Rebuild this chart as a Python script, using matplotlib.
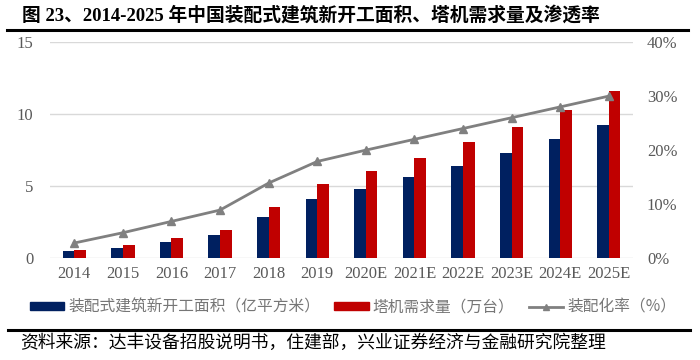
import numpy as np
import matplotlib.pyplot as plt
from matplotlib.lines import Line2D

plt.rcParams['font.family'] = ['Liberation Serif', 'Noto Sans CJK SC']

years = ['2014', '2015', '2016', '2017', '2018', '2019', '2020E', '2021E',
         '2022E', '2023E', '2024E', '2025E']
area = [0.46, 0.69, 1.11, 1.6, 2.89, 4.14, 4.83, 5.6, 6.42, 7.3, 8.24, 9.26]
cranes = [0.58, 0.88, 1.39, 1.97, 3.58, 5.18, 6.07, 6.98, 8.03, 9.12, 10.28, 11.6]
rate = [2.8, 4.7, 6.8, 8.9, 13.9, 17.9, 20.0, 22.0, 24.0, 26.0, 28.0, 30.0]

navy = '#002060'
red = '#C00000'
grey = '#808080'
txt = '#595959'

fig = plt.figure(figsize=(7, 3.6), dpi=100)
ax = fig.add_axes([0.0714, 0.283, 0.833, 0.6])
x = np.arange(len(years))
w = 0.24
ax.bar(x - w / 2, area, w, color=navy, zorder=3)
ax.bar(x + w / 2, cranes, w, color=red, zorder=3)
ax.set_ylim(0, 15)
ax.set_yticks([0, 5, 10, 15])
ax.set_xlim(-0.5, len(years) - 0.5)
ax.set_xticks(x)
ax.set_xticklabels(years)
ax.grid(axis='y', color='#d9d9d9', lw=1, zorder=0)
for s in ax.spines.values():
    s.set_visible(False)
ax.tick_params(length=0, labelsize=12, colors=txt, pad=6)
ax.tick_params(axis='y', pad=12)

ax2 = ax.twinx()
ax2.plot(x, rate, color=grey, lw=2, marker='^', ms=6, zorder=4)
ax2.set_ylim(0, 40)
ax2.set_yticks([0, 10, 20, 30, 40])
ax2.set_yticklabels(['0%', '10%', '20%', '30%', '40%'])
for s in ax2.spines.values():
    s.set_visible(False)
ax2.tick_params(length=0, labelsize=12, colors=txt, pad=10)

cjk = ['Noto Sans CJK SC', 'DejaVu Sans']
handles = [plt.Rectangle((0, 0), 1, 1, color=navy),
           plt.Rectangle((0, 0), 1, 1, color=red),
           Line2D([], [], color=grey, lw=2, marker='^', ms=5)]
labels = ['装配式建筑新开工面积（亿平方米）', '塔机需求量（万台）', '装配化率（%）']
fig.legend(handles, labels, loc='center', bbox_to_anchor=(0.504, 0.147), ncol=3,
           frameon=False, prop={'family': cjk, 'size': 11.3}, labelcolor='#767676',
           handlelength=2.2, handleheight=0.45, columnspacing=0.9, handletextpad=0.25)

fig.text(0.031, 0.958, '图 23、2014-2025 年中国装配式建筑新开工面积、塔机需求量及渗透率',
         fontsize=13.5, fontweight='bold', va='center',
         family=['Liberation Serif', 'Noto Sans CJK SC'])
fig.add_artist(Line2D([0.01, 0.983], [0.918, 0.918], color='black', lw=2.2))
fig.add_artist(Line2D([0.011, 0.986], [0.083, 0.083], color='black', lw=2.2))
fig.text(0.029, 0.047, '资料来源：达丰设备招股说明书，住建部，兴业证券经济与金融研究院整理',
         fontsize=12.8, va='center', family=cjk)

fig.savefig('out.png', dpi=100)
